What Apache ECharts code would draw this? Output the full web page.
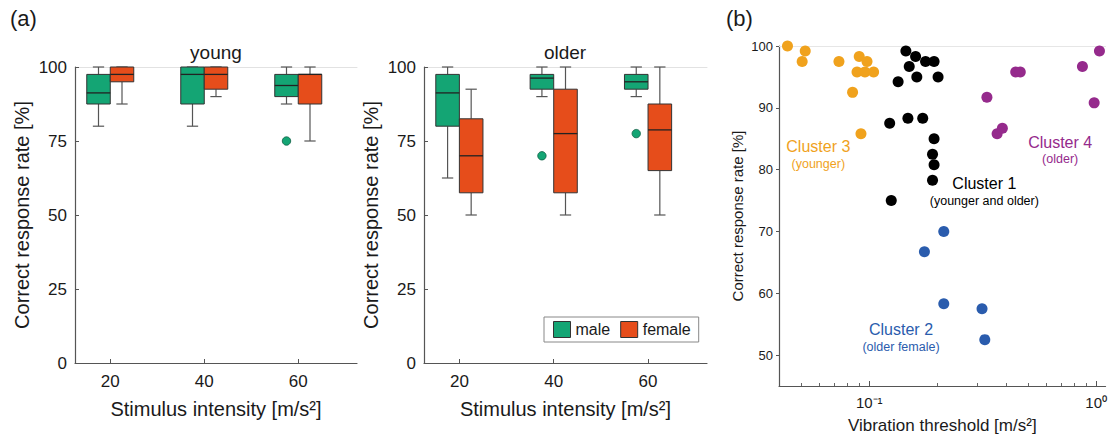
<!DOCTYPE html>
<html><head><meta charset="utf-8">
<script src="https://cdn.jsdelivr.net/npm/echarts@6/dist/echarts.min.js"></script>
<style>html,body{margin:0;padding:0;background:#fff}#c{width:1110px;height:439px}</style>
</head><body><div id="c"></div><script>
// ---------- Panel (a) data ----------
const intensities = [20, 40, 60];
// each box: [min, q1, median, q3, max]
const youngMale   = [[80, 87.5, 91.25, 97.5, 100], [80, 87.5, 97.5, 100, 100], [87.5, 90, 93.75, 97.5, 100]];
const youngFemale = [[87.5, 95, 97.5, 100, 100], [90, 92.5, 97.5, 100, 100], [75, 87.5, 97.5, 97.5, 100]];
const olderMale   = [[62.5, 80, 91.25, 97.5, 100], [90, 92.5, 96.25, 97.5, 100], [90, 92.5, 95, 97.5, 100]];
const olderFemale = [[50, 57.5, 70, 82.5, 92.5], [50, 57.5, 77.5, 92.5, 100], [50, 65, 78.75, 87.5, 100]];
// outliers: [intensity, value]
const youngMaleOutliers = [[60, 75]];
const olderMaleOutliers = [[40, 70], [60, 77.5]];
const yTicksA = [0, 25, 50, 75, 100];

// ---------- Panel (b) data: [vibration threshold, correct rate] ----------
const cluster1 = [[0.145, 99.2], [0.160, 98.3], [0.150, 96.7], [0.177, 97.5], [0.193, 97.5], [0.134, 94.2],
  [0.162, 95.0], [0.201, 95.0], [0.123, 87.5], [0.148, 88.3], [0.172, 88.3], [0.193, 85.0], [0.190, 82.5],
  [0.193, 80.8], [0.190, 78.3], [0.125, 75.0]];
const cluster2 = [[0.213, 70.0], [0.175, 66.7], [0.213, 58.3], [0.314, 57.5], [0.323, 52.5]];
const cluster3 = [[0.0436, 100], [0.0522, 99.2], [0.0506, 97.5], [0.0735, 97.5], [0.0903, 98.3], [0.0977, 97.5],
  [0.0883, 95.8], [0.0957, 95.8], [0.1045, 95.8], [0.0844, 92.5], [0.0919, 85.8]];
const cluster4 = [[0.330, 91.7], [0.366, 85.8], [0.386, 86.7], [0.442, 95.8], [0.463, 95.8], [0.870, 96.7],
  [0.980, 90.8], [1.034, 99.2]];
const clusterLabels = [
  {title: 'Cluster 1', sub: '(younger and older)', at: [0.3215, 76.5], color: '#000000'},
  {title: 'Cluster 2', sub: '(older female)', at: [0.138, 52.9], color: '#2a5cad'},
  {title: 'Cluster 3', sub: '(younger)', at: [0.0596, 82.5], color: '#f0a21d'},
  {title: 'Cluster 4', sub: '(older)', at: [0.694, 83.2], color: '#952a8c'}
];
const yTicksB = [50, 60, 70, 80, 90, 100];
const xMajorB = [0.1, 1];
const xMinorB = [0.05, 0.06, 0.07, 0.08, 0.09, 0.2, 0.3, 0.4, 0.5, 0.6, 0.7, 0.8, 0.9];

const FONT = 'Liberation Sans, Arial, sans-serif';
const TXT = '#1a1a1a';
const GREEN = '#14a574', RED = '#e64d1b';
const BOX_W = 5; // box width in stimulus units

function boxRender(side) {
  return function (params, api) {
    const x = api.value(0);
    const lo = api.value(1), q1 = api.value(2), med = api.value(3), q3 = api.value(4), hi = api.value(5);
    const xl = side < 0 ? x - BOX_W : x, xr = side < 0 ? x : x + BOX_W;
    const pTL = api.coord([xl, q3]), pBR = api.coord([xr, q1]);
    const xm = (pTL[0] + pBR[0]) / 2;
    const cap = (pBR[0] - pTL[0]) * 0.24;
    const yHi = api.coord([x, hi])[1], yLo = api.coord([x, lo])[1], yMed = api.coord([x, med])[1];
    const w = {stroke: '#555', lineWidth: 1.2};
    return {type: 'group', children: [
      {type: 'line', shape: {x1: xm, y1: yHi, x2: xm, y2: pTL[1]}, style: w},
      {type: 'line', shape: {x1: xm, y1: pBR[1], x2: xm, y2: yLo}, style: w},
      {type: 'line', shape: {x1: xm - cap, y1: yHi, x2: xm + cap, y2: yHi}, style: w},
      {type: 'line', shape: {x1: xm - cap, y1: yLo, x2: xm + cap, y2: yLo}, style: w},
      {type: 'rect', shape: {x: pTL[0], y: pTL[1], width: pBR[0] - pTL[0], height: pBR[1] - pTL[1]},
        style: {fill: api.visual('color'), stroke: '#333', lineWidth: 1}},
      {type: 'line', shape: {x1: pTL[0], y1: yMed, x2: pBR[0], y2: yMed}, style: {stroke: '#222', lineWidth: 1.3}}
    ]};
  };
}
function outlierRender(params, api) {
  const p = api.coord([api.value(0) - BOX_W / 2, api.value(1)]);
  return {type: 'circle', shape: {cx: p[0], cy: p[1], r: 4.2}, style: {fill: GREEN, stroke: '#0b5e42', lineWidth: 0.8}};
}
function boxData(stats) { return intensities.map((x, i) => [x].concat(stats[i])); }

function panelAAxes(gi) {
  const x = {
    type: 'value', gridIndex: gi, min: 12.5, max: 72.5, position: 'bottom',
    name: 'Stimulus intensity [m/s\u00b2]', nameLocation: 'middle', nameGap: 36,
    nameTextStyle: {fontSize: 20, color: TXT, fontFamily: FONT},
    axisLine: {lineStyle: {color: '#555', width: 1.2}},
    axisTick: {inside: true, length: 4, customValues: intensities, lineStyle: {color: '#555'}},
    axisLabel: {customValues: intensities, fontSize: 17, color: TXT, margin: 10, fontFamily: FONT},
    splitLine: {show: false}
  };
  const xTop = {
    type: 'value', gridIndex: gi, min: 12.5, max: 72.5, position: 'top',
    axisLine: {show: true, lineStyle: {color: '#e2e2e2'}}, axisTick: {show: false}, axisLabel: {show: false},
    splitLine: {show: false}
  };
  const y = {
    type: 'value', gridIndex: gi, min: 0, max: 100, interval: 25,
    name: 'Correct response rate [%]', nameLocation: 'middle', nameGap: 43, nameRotate: 90,
    nameTextStyle: {fontSize: 20, color: TXT, fontFamily: FONT},
    axisLine: {show: true, lineStyle: {color: '#555', width: 1.2}},
    axisTick: {show: true, inside: true, length: 4, lineStyle: {color: '#555'}},
    axisLabel: {fontSize: 17, color: TXT, margin: 8, fontFamily: FONT},
    splitLine: {show: false}
  };
  return {x: [x, xTop], y: y};
}
const ay = panelAAxes(0), ao = panelAAxes(1);

const option = {
  animation: false,
  backgroundColor: '#fff',
  textStyle: {fontFamily: FONT},
  title: [
    {text: '(a)', left: 10, top: 7, padding: 0, textStyle: {fontSize: 22, fontWeight: 'normal', color: TXT, fontFamily: FONT}},
    {text: '(b)', left: 726, top: 7, padding: 0, textStyle: {fontSize: 22, fontWeight: 'normal', color: TXT, fontFamily: FONT}},
    {text: 'young', left: 216, textAlign: 'center', top: 43, padding: 0, textStyle: {fontSize: 19, fontWeight: 'normal', color: TXT, fontFamily: FONT}},
    {text: 'older', left: 565, textAlign: 'center', top: 43, padding: 0, textStyle: {fontSize: 19, fontWeight: 'normal', color: TXT, fontFamily: FONT}}
  ],
  legend: {
    data: ['male', 'female'], left: 544, top: 317, orient: 'horizontal',
    icon: 'rect', itemWidth: 17, itemHeight: 16, itemGap: 10,
    padding: [4, 8, 4, 9], borderColor: '#888', borderWidth: 1, backgroundColor: '#fff',
    itemStyle: {borderColor: '#333', borderWidth: 1},
    textStyle: {fontSize: 16, color: TXT, fontFamily: FONT},
    selectedMode: false
  },
  grid: [
    {left: 75, top: 67, width: 282, height: 296},
    {left: 424, top: 67, width: 283, height: 296},
    {left: 779, top: 46, width: 327, height: 341}
  ],
  xAxis: [
    ay.x[0], ay.x[1], ao.x[0], ao.x[1],
    {
      type: 'log', logBase: 10, gridIndex: 2, min: 0.04, max: 1.1, position: 'bottom',
      name: 'Vibration threshold [m/s\u00b2]', nameLocation: 'middle', nameGap: 31,
      nameTextStyle: {fontSize: 17, color: TXT, fontFamily: FONT},
      axisLine: {lineStyle: {color: '#555', width: 1.2}},
      axisTick: {inside: true, length: 5, customValues: xMajorB, lineStyle: {color: '#555'}},
      axisLabel: {customValues: xMajorB, fontSize: 15, color: TXT, margin: 9, fontFamily: FONT,
        formatter: v => (Math.abs(v - 0.1) < 1e-9 ? '10\u207b\u00b9' : '10\u2070')},
      splitLine: {show: false}, minorSplitLine: {show: false}
    },
    {
      type: 'log', logBase: 10, gridIndex: 2, min: 0.04, max: 1.1, position: 'bottom',
      axisLine: {show: false},
      axisTick: {inside: true, length: 3, customValues: xMinorB, lineStyle: {color: '#666'}},
      axisLabel: {show: false}, splitLine: {show: false}
    },
    {
      type: 'log', logBase: 10, gridIndex: 2, min: 0.04, max: 1.1, position: 'top',
      axisLine: {show: true, lineStyle: {color: '#e6e6e6'}}, axisTick: {show: false}, axisLabel: {show: false},
      splitLine: {show: false}
    }
  ],
  yAxis: [
    ay.y, ao.y,
    {
      type: 'value', gridIndex: 2, min: 45, max: 100,
      name: 'Correct response rate [%]', nameLocation: 'middle', nameGap: 34, nameRotate: 90,
      nameTextStyle: {fontSize: 15, color: TXT, fontFamily: FONT},
      axisLine: {show: true, lineStyle: {color: '#555', width: 1.2}},
      axisTick: {show: true, length: 3, customValues: yTicksB, lineStyle: {color: '#555'}},
      axisLabel: {customValues: yTicksB, fontSize: 13, color: TXT, margin: 6, fontFamily: FONT},
      splitLine: {show: false}
    }
  ],
  series: [
    {name: 'male', type: 'custom', xAxisIndex: 0, yAxisIndex: 0, itemStyle: {color: GREEN},
      renderItem: boxRender(-1), encode: {x: 0, y: [1, 2, 3, 4, 5]}, data: boxData(youngMale)},
    {name: 'female', type: 'custom', xAxisIndex: 0, yAxisIndex: 0, itemStyle: {color: RED},
      renderItem: boxRender(1), encode: {x: 0, y: [1, 2, 3, 4, 5]}, data: boxData(youngFemale)},
    {name: 'male outliers', type: 'custom', xAxisIndex: 0, yAxisIndex: 0,
      renderItem: outlierRender, encode: {x: 0, y: 1}, data: youngMaleOutliers},
    {name: 'male', type: 'custom', xAxisIndex: 2, yAxisIndex: 1, itemStyle: {color: GREEN},
      renderItem: boxRender(-1), encode: {x: 0, y: [1, 2, 3, 4, 5]}, data: boxData(olderMale)},
    {name: 'female', type: 'custom', xAxisIndex: 2, yAxisIndex: 1, itemStyle: {color: RED},
      renderItem: boxRender(1), encode: {x: 0, y: [1, 2, 3, 4, 5]}, data: boxData(olderFemale)},
    {name: 'male outliers', type: 'custom', xAxisIndex: 2, yAxisIndex: 1,
      renderItem: outlierRender, encode: {x: 0, y: 1}, data: olderMaleOutliers},
    {name: 'Cluster 1', type: 'scatter', xAxisIndex: 4, yAxisIndex: 2, symbolSize: 11, itemStyle: {color: '#000', opacity: 1}, data: cluster1},
    {name: 'Cluster 2', type: 'scatter', xAxisIndex: 4, yAxisIndex: 2, symbolSize: 11, itemStyle: {color: '#2a5cad', opacity: 1}, data: cluster2},
    {name: 'Cluster 3', type: 'scatter', xAxisIndex: 4, yAxisIndex: 2, symbolSize: 11, itemStyle: {color: '#f0a21d', opacity: 1}, data: cluster3},
    {name: 'Cluster 4', type: 'scatter', xAxisIndex: 4, yAxisIndex: 2, symbolSize: 11, itemStyle: {color: '#952a8c', opacity: 1}, data: cluster4},
    {name: 'labels', type: 'scatter', xAxisIndex: 4, yAxisIndex: 2, symbolSize: 1, silent: true, z: 5,
      itemStyle: {color: 'rgba(0,0,0,0)', opacity: 1},
      data: clusterLabels.map(c => ({value: c.at,
        label: {show: true, position: 'inside', opacity: 1, textBorderWidth: 0, formatter: '{a|' + c.title + '}\n{b|' + c.sub + '}',
          rich: {a: {fontSize: 16, color: c.color, lineHeight: 19, align: 'center', fontFamily: FONT},
                 b: {fontSize: 12.5, color: c.color, lineHeight: 15, align: 'center', fontFamily: FONT}}}}))}
  ]
};
const chart = echarts.init(document.getElementById('c'), null, {renderer: 'svg'});
chart.setOption(option);
</script></body></html>
